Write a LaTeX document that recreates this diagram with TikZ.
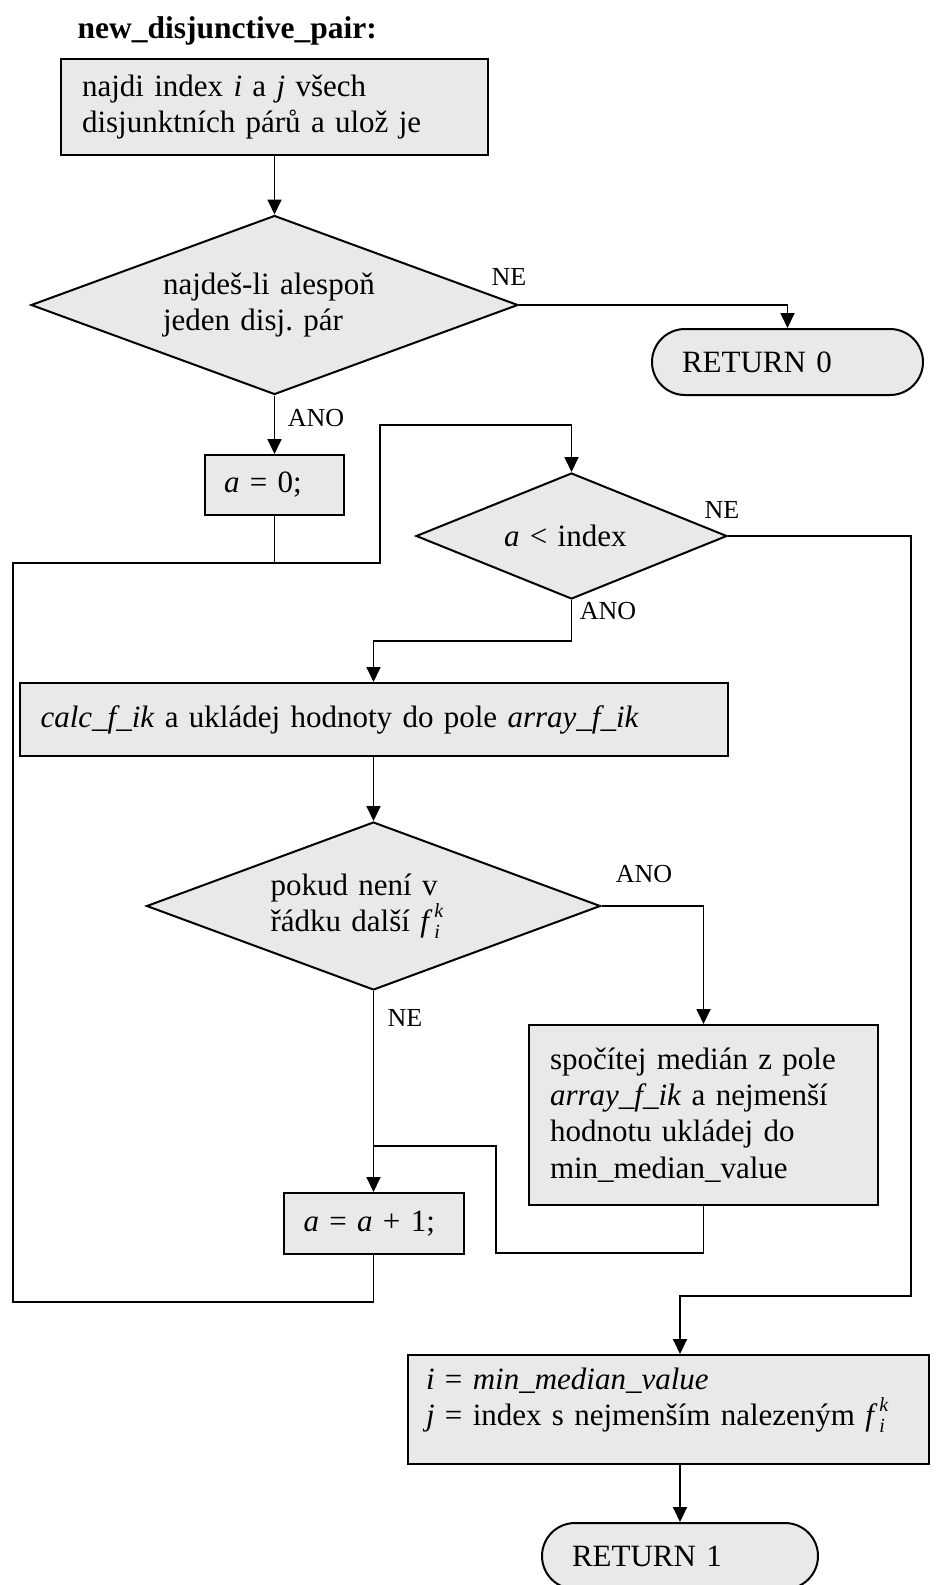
\documentclass[tikz,border=0pt]{standalone}
\usepackage{fontspec}
\setmainfont{Liberation Serif}
\usetikzlibrary{shapes.geometric,arrows.meta}
\definecolor{boxfill}{RGB}{233,233,233}
\frenchspacing
% f with subscript i and superscript k, set in the text font
\newcommand{\fik}{\textit{f}\kern0.06em\rlap{\raisebox{-0.22em}{\fontsize{20}{20}\selectfont\textit{i}}}\raisebox{0.45em}{\fontsize{20}{20}\selectfont\textit{k}}}
\begin{document}
\begin{tikzpicture}[x=1pt,y=-1pt,
  every node/.style={font=\fontsize{31}{36.3}\selectfont},
  proc/.style={draw,line width=2pt,fill=boxfill,rectangle,inner ysep=0pt,align=left},
  decide/.style={draw,line width=2pt,fill=boxfill,diamond,inner sep=0pt,align=left},
  term/.style={draw,line width=2pt,fill=boxfill,rectangle,rounded corners=33pt,
    inner ysep=0pt,inner xsep=30pt,minimum height=66pt,align=left},
  tag/.style={font=\fontsize{26}{30}\selectfont,inner sep=0pt},
  link/.style={line width=1.8pt},
  flow/.style={link,-{Triangle[length=15pt,width=14pt]}},
]
\useasboundingbox (0,0) rectangle (937,1585);

% heading
\node[anchor=base west,font=\fontsize{31.5}{36}\selectfont\bfseries] (title) at (74,38) {new\_disjunctive\_pair:};

% steps and decisions
\node[proc,minimum width=427pt,minimum height=96pt,inner xsep=21pt,text width=385pt] (find) at (274.5,107)
  {najdi index \textit{i} a \textit{j} všech\\disjunktních párů a ulož je};
\node[decide,aspect=2.72,minimum width=487pt,minimum height=179pt,text width=223pt] (d1) at (274.5,305)
  {najdeš-li alespoň\\jeden disj. pár};
\node[term,minimum width=271pt,text width=211pt] (ret0) at (787.5,362) {RETURN 0};
\node[proc,minimum width=139pt,minimum height=60pt,inner xsep=19pt,text width=101pt] (a0) at (274.5,485)
  {\textit{a} = 0;};
\node[decide,aspect=2.47,minimum width=311pt,minimum height=126pt,text width=135pt] (d2) at (571.5,536)
  {\textit{a} < index};
\node[proc,minimum width=708pt,minimum height=73pt,inner xsep=21pt,text width=666pt] (calc) at (373.5,719.5)
  {\textit{calc\_f\_ik} a ukládej hodnoty do pole \textit{array\_f\_ik}};
\node[decide,aspect=2.7,minimum width=454pt,minimum height=168pt,text width=206pt] (d3) at (373.5,906)
  {pokud není v\\řádku další \fik};
\node[proc,minimum width=349pt,minimum height=180pt,inner xsep=21pt,text width=307pt] (spoc) at (703.5,1115)
  {spočítej medián z pole\\\textit{array\_f\_ik} a nejmenší\\hodnotu ukládej do\\min\_median\_value};
\node[proc,minimum width=180pt,minimum height=61pt,inner xsep=20pt,text width=140pt] (inc) at (373.5,1223.5)
  {\textit{a} = \textit{a} + 1;};
\node[proc,minimum width=521pt,minimum height=109pt,inner xsep=18pt,text width=485pt] (fin) at (668.5,1409.5)
  {\textit{i} = \textit{min\_median\_value}\\\textit{j} = index s nejmenším nalezeným \fik\rule[-26pt]{0pt}{0pt}};
\node[term,minimum width=276pt,text width=216pt] (ret1) at (680,1556) {RETURN 1};

% branch labels
\node[tag] (ne1) at (509,277) {NE};
\node[tag] (ano1) at (316,418) {ANO};
\node[tag] (ne2) at (722,510) {NE};
\node[tag] (ano2) at (608,611) {ANO};
\node[tag] (ano3) at (644,874) {ANO};
\node[tag] (ne3) at (405,1018) {NE};

% bends of the connectors
\coordinate (j1) at (274.5,563);
\coordinate (u1) at (380,425);
\coordinate (l1) at (13,1302);
\coordinate (k1) at (571.5,641);
\coordinate (j2) at (373.5,1146);
\coordinate (m1) at (496,1253);
\coordinate (r1) at (911,1296);

% connectors
\draw[flow] (find.south) -- (d1.north);
\draw[flow] (d1.east) -| (ret0.north);
\draw[flow] (d1.south) -- (a0.north);
\draw[flow] (a0.south) -- (j1) -| (u1) -| (d2.north);
\draw[link] (inc.south) |- (l1) |- (j1);
\draw[flow] (d2.south) -- (k1) -| (calc.north);
\draw[flow] (calc.south) -- (d3.north);
\draw[flow] (d3.east) -| (spoc.north);
\draw[flow] (d3.south) -- (inc.north);
\draw[link] (spoc.south) |- (m1) |- (j2);
\draw[flow] (d2.east) -| (r1) -| (fin.north -| ret1.north);
\draw[flow] (fin.south -| ret1.north) -- (ret1.north);
\end{tikzpicture}
\end{document}
